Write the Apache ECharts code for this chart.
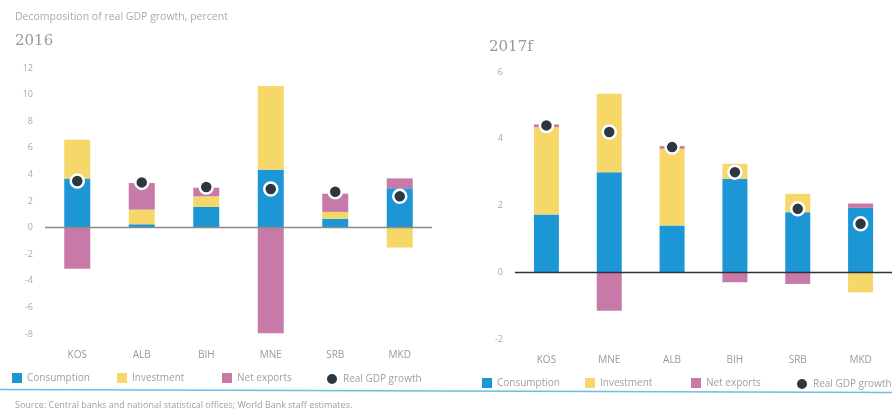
<!DOCTYPE html>
<html><head><meta charset="utf-8">
<script src="https://cdn.jsdelivr.net/npm/echarts@6/dist/echarts.min.js"></script>
<style>html,body{margin:0;padding:0;background:#fff}#c{width:892px;height:411px}</style>
</head><body><div id="c"></div>
<script>
const cats2016 = ['KOS','ALB','BIH','MNE','SRB','MKD'];
const cons2016 = [3.7, 0.25, 1.55, 4.35, 0.65, 2.95];
const inv2016  = [2.9, 1.1, 0.8, 6.3, 0.53, -1.5];
const nx2016   = [-3.1, 2.0, 0.65, -7.95, 1.37, 0.75];
const gdp2016  = [3.5, 3.4, 3.05, 2.9, 2.7, 2.35];

const cats2017 = ['KOS','MNE','ALB','BIH','SRB','MKD'];
const cons2017 = [1.73, 3.0, 1.4, 2.8, 1.8, 1.93];
const inv2017  = [2.62, 2.35, 2.3, 0.45, 0.55, -0.6];
const nx2017   = [0.08, -1.15, 0.08, -0.3, -0.35, 0.13];
const gdp2017  = [4.4, 4.2, 3.75, 3.0, 1.9, 1.45];

const yTicks2016 = [-8, 12, 2];
const yTicks2017 = [-2, 6, 2];

const names = ['Consumption','Investment','Net exports','Real GDP growth'];
const C_BLUE = '#1d96d6', C_YEL = '#f5d76a', C_PINK = '#c77aa8', C_DOT = '#2c3740';
const FONT = 'Open Sans';
const txt = '#9a9a9a';

const chart = echarts.init(document.getElementById('c'), null, {renderer:'canvas'});

function barSeries(name, data, idx, color, bw, withZero, lineColor){
  const s = {
    name, type:'bar', stack:'s'+idx, data, xAxisIndex:idx, yAxisIndex:idx,
    barWidth:bw, itemStyle:{color}, emphasis:{disabled:true}, silent:true
  };
  if (withZero) {
    s.markLine = {silent:true, symbol:['none','none'], label:{show:false},
      lineStyle:{color:lineColor, width:1.3, type:'solid'}, data:[{yAxis:0}]};
  }
  return s;
}
function dotSeries(name, data, idx){
  return {name, type:'scatter', data, xAxisIndex:idx, yAxisIndex:idx, z:5,
    symbolSize:13, itemStyle:{color:C_DOT, borderColor:'#fff', borderWidth:2.5, opacity:1},
    emphasis:{disabled:true}, silent:true};
}
function xAx(idx, cats){
  return {type:'category', gridIndex:idx, data:cats,
    axisLine:{show:false}, axisTick:{show:false},
    axisLabel:{color:txt, fontFamily:FONT, fontSize:10, margin:16}};
}
function yAx(idx, t){
  return {type:'value', gridIndex:idx, min:t[0], max:t[1], interval:t[2],
    splitLine:{show:false}, axisLine:{show:false}, axisTick:{show:false},
    axisLabel:{color:'#a8a8a8', fontFamily:FONT, fontSize:9, margin:12}};
}
const legendXs = [[12,117,222,325],[482,585,691,795]];
const legendTops = [373, 378];
const legends = [];
for (let g=0; g<2; g++) {
  for (let i=0; i<4; i++) {
    legends.push({
      data:[{name:names[i], icon: i===3 ? 'circle' : 'rect'}],
      left: legendXs[g][i], top: legendTops[g] - (i===3 ? 1 : 0),
      itemWidth: i===3 ? 12 : 10, itemHeight: i===3 ? 12 : 10, itemGap:5,
      selectedMode:false, padding:0,
      textStyle:{color:'#a0a0a0', fontFamily:FONT, fontSize:10}
    });
  }
}

chart.setOption({
  backgroundColor:'#fff',
  animation:false,
  textStyle:{fontFamily:FONT},
  title:[
    {text:'Decomposition of real GDP growth, percent', left:10, top:7,
      textStyle:{color:'#aaaaaa', fontSize:10.5, fontWeight:'normal', fontFamily:FONT}},
    {text:'2016', left:10, top:29,
      textStyle:{color:'#999', fontSize:15, fontWeight:'normal', fontFamily:'DejaVu Serif'}},
    {text:'2017f', left:484, top:35,
      textStyle:{color:'#999', fontSize:15, fontWeight:'normal', fontFamily:'DejaVu Serif'}},
    {text:'Source: Central banks and national statistical offices; World Bank staff estimates.', left:10, top:396,
      textStyle:{color:'#a0a0a0', fontSize:9, fontWeight:'normal', fontFamily:FONT}}
  ],
  legend: legends,
  grid:[
    {left:45, top:68, width:387, height:266},
    {left:515, top:72, width:385, height:267}
  ],
  xAxis:[xAx(0,cats2016), xAx(1,cats2017)],
  yAxis:[yAx(0,yTicks2016), yAx(1,yTicks2017)],
  graphic:[
    {type:'line', shape:{x1:0, y1:389.5, x2:892, y2:392.5}, style:{stroke:'#6cbde8', lineWidth:1.5}, silent:true}
  ],
  series:[
    barSeries(names[0], cons2016, 0, C_BLUE, 26, true, '#8a8a8a'),
    barSeries(names[1], inv2016, 0, C_YEL, 26),
    barSeries(names[2], nx2016, 0, C_PINK, 26),
    dotSeries(names[3], gdp2016, 0),
    barSeries(names[0], cons2017, 1, C_BLUE, 25, true, '#333'),
    barSeries(names[1], inv2017, 1, C_YEL, 25),
    barSeries(names[2], nx2017, 1, C_PINK, 25),
    dotSeries(names[3], gdp2017, 1)
  ]
});
</script></body></html>
